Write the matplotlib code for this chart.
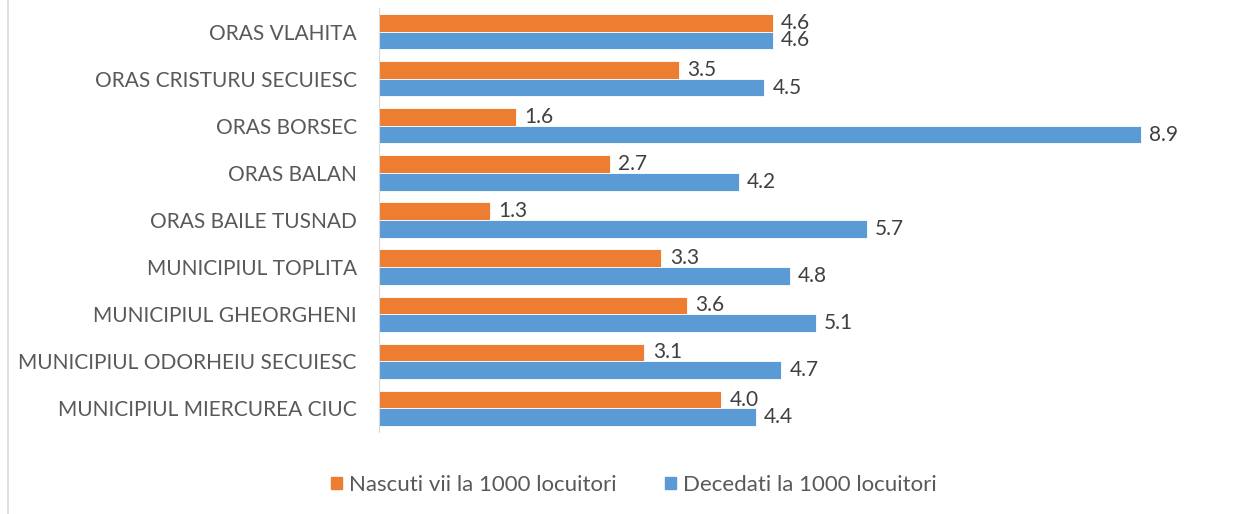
import numpy as np
import matplotlib.pyplot as plt
from matplotlib.patches import Patch
from matplotlib.lines import Line2D

plt.rcParams['font.family'] = ['Lato', 'DejaVu Sans']

# date
localitati = ['MUNICIPIUL MIERCUREA CIUC', 'MUNICIPIUL ODORHEIU SECUIESC',
              'MUNICIPIUL GHEORGHENI', 'MUNICIPIUL TOPLITA', 'ORAS BAILE TUSNAD',
              'ORAS BALAN', 'ORAS BORSEC', 'ORAS CRISTURU SECUIESC', 'ORAS VLAHITA']
nascuti = [4.0, 3.1, 3.6, 3.3, 1.3, 2.7, 1.6, 3.5, 4.6]
decedati = [4.4, 4.7, 5.1, 4.8, 5.7, 4.2, 8.9, 4.5, 4.6]

c_nasc = '#ED7D31'
c_dec = '#5B9BD5'
text_col = '#595959'

fig = plt.figure(figsize=(12.48, 5.14), dpi=100)
ax = fig.add_axes([379 / 1248, 1 - 432 / 514, 856 / 1248, 424 / 514])

y = np.arange(len(localitati))
h = 0.375
b1 = ax.barh(y + h / 2, nascuti, height=h, color=c_nasc, edgecolor='white', linewidth=0.6)
b2 = ax.barh(y - h / 2, decedati, height=h, color=c_dec, edgecolor='white', linewidth=0.6)

for bars in (b1, b2):
    ax.bar_label(bars, labels=['%.1f' % v for v in bars.datavalues], padding=6,
                 fontsize=15, color='#404040')

ax.set_xlim(0, 10)
ax.set_ylim(-0.5, len(localitati) - 0.5)
ax.set_yticks(y)
ax.set_yticklabels(localitati, fontsize=15, color=text_col)
ax.tick_params(axis='y', length=0, pad=16)
ax.set_xticks([])
for s in ['top', 'right', 'bottom']:
    ax.spines[s].set_visible(False)
ax.spines['left'].set_color('#d9d9d9')

# chenar stanga
fig.add_artist(Line2D([8 / 1248, 8 / 1248], [0, 1], color='#d9d9d9', lw=1.2))

handles = [Patch(color=c_nasc, label='Nascuti vii la 1000 locuitori'),
           Patch(color=c_dec, label='Decedati la 1000 locuitori')]
fig.legend(handles=handles, loc='center', bbox_to_anchor=(634 / 1248, 1 - 485 / 514),
           ncol=2, frameon=False, fontsize=16, labelcolor=text_col,
           handlelength=0.5, handleheight=0.5, handletextpad=0.3, columnspacing=2.2)

fig.savefig('out.png', dpi=100)
